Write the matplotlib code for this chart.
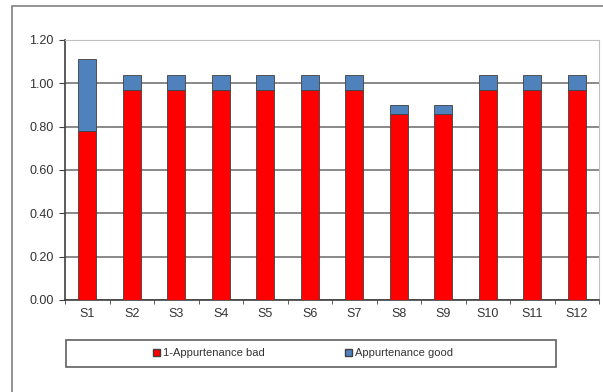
import numpy as np
import matplotlib.pyplot as plt
from matplotlib.patches import Rectangle, Patch

plt.rcParams["font.family"] = ["Liberation Sans", "DejaVu Sans"]

# --- data ---
samples = ["S1", "S2", "S3", "S4", "S5", "S6", "S7", "S8", "S9", "S10", "S11", "S12"]
bad = [0.78, 0.97, 0.97, 0.97, 0.97, 0.97, 0.97, 0.86, 0.86, 0.97, 0.97, 0.97]
good = [0.33, 0.07, 0.07, 0.07, 0.07, 0.07, 0.07, 0.04, 0.04, 0.07, 0.07, 0.07]
y_ticks = [0.0, 0.2, 0.4, 0.6, 0.8, 1.0, 1.2]

RED = "#FF0000"
BLUE = "#4F81BD"

fig = plt.figure(figsize=(6.03, 3.92), dpi=100)
W, H = 603, 392

# outer chart border
fig.patches.append(Rectangle((12 / W, -0.1), 1.2, (H - 6) / H + 0.1,
                             transform=fig.transFigure, fill=False,
                             edgecolor="#808080", linewidth=1.2))

ax = fig.add_axes([65 / W, 1 - 300 / H, (599 - 65) / W, (300 - 40) / H])
x = np.arange(len(samples))
ax.bar(x, bad, width=0.4, color=RED, edgecolor="#404040", linewidth=0.6,
       label="1-Appurtenance bad", zorder=3)
ax.bar(x, good, width=0.4, bottom=bad, color=BLUE, edgecolor="#404040",
       linewidth=0.6, label="Appurtenance good", zorder=3)

ax.set_xlim(-0.5, len(samples) - 0.5)
ax.set_ylim(0, 1.2)
ax.set_yticks(y_ticks)
ax.set_yticklabels([f"{v:.2f}" for v in y_ticks])
ax.yaxis.grid(True, color="#808080", linewidth=1.3, zorder=0)

ax.set_xticks(x)
ax.set_xticklabels(samples)
ax.set_xticks(np.arange(len(samples) + 1) - 0.5, minor=True)
ax.tick_params(axis="x", which="major", length=0, pad=6)
ax.tick_params(axis="x", which="minor", length=3, direction="out", color="#404040")
ax.tick_params(axis="y", length=4, direction="out", color="#404040", pad=4)
ax.tick_params(labelsize=9, labelcolor="#333333")

for side in ["top", "right"]:
    ax.spines[side].set_color("#C0C0C0")
for side in ["left", "bottom"]:
    ax.spines[side].set_color("#404040")
    ax.spines[side].set_linewidth(1.2)

# legend box
fig.patches.append(Rectangle((66 / W, 1 - 367 / H), (556 - 66) / W, 27 / H,
                             transform=fig.transFigure, fill=False,
                             edgecolor="#606060", linewidth=1.2))
handles = [Patch(facecolor=RED, edgecolor="#404040", label="1-Appurtenance bad"),
           Patch(facecolor=BLUE, edgecolor="#404040", label="Appurtenance good")]
leg = fig.legend(handles=handles, loc="center",
                 bbox_to_anchor=(303 / W, 1 - 353.5 / H),
                 ncol=2, frameon=False,
                 fontsize=8, handlelength=0.65, handleheight=0.65,
                 handletextpad=0.25, columnspacing=7.2, borderaxespad=0)
for t in leg.get_texts():
    t.set_color("#333333")

fig.savefig("out.png", dpi=100)
